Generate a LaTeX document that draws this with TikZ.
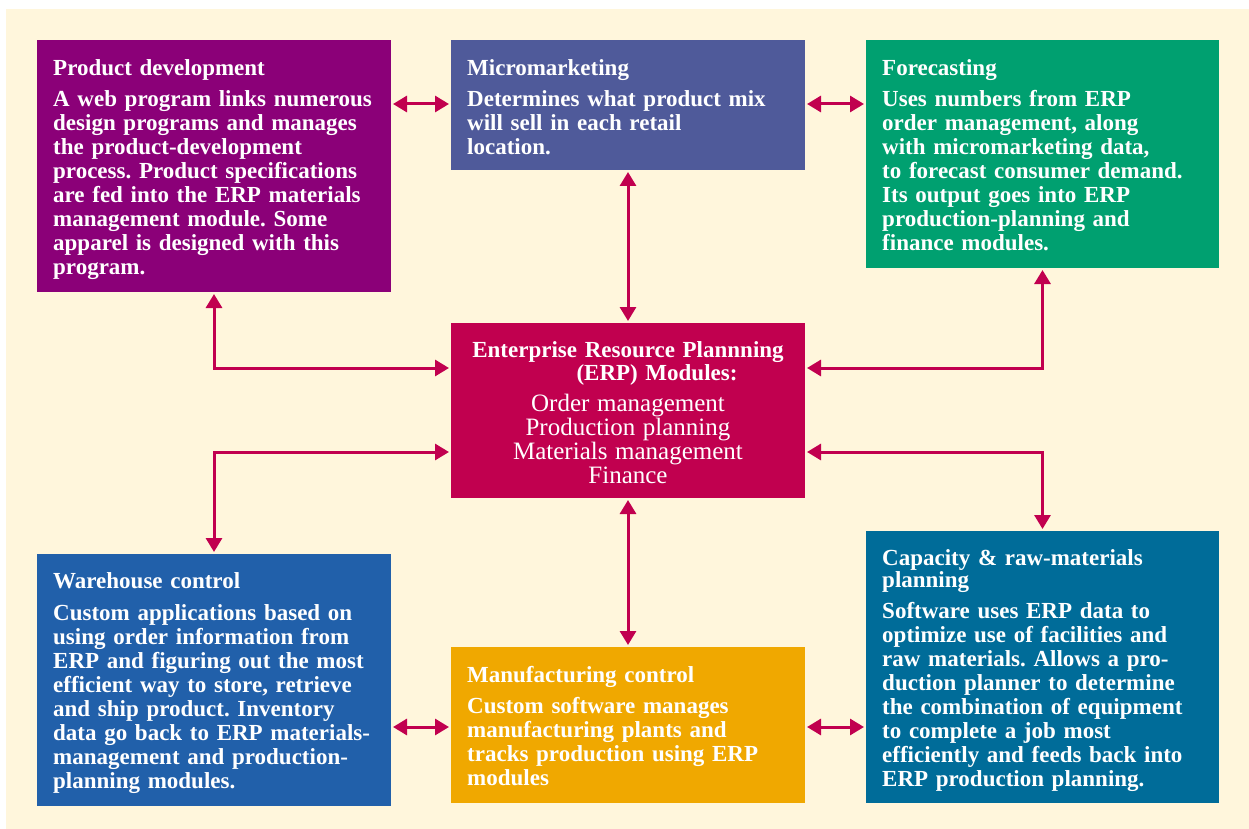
\documentclass[tikz,border=0pt]{standalone}
\usepackage{fontspec}
\setmainfont{Liberation Serif}
\usetikzlibrary{arrows.meta}
\frenchspacing
\definecolor{bgc}{HTML}{FFF6DC}
\definecolor{cPD}{HTML}{8B0078}
\definecolor{cMM}{HTML}{4F5A9A}
\definecolor{cFC}{HTML}{00A070}
\definecolor{cERP}{HTML}{C1004F}
\definecolor{cWH}{HTML}{2160AA}
\definecolor{cMF}{HTML}{F0A800}
\definecolor{cCAP}{HTML}{006C99}
\definecolor{arrowc}{HTML}{C1004F}
\begin{document}
\begin{tikzpicture}[x=1pt,y=-1pt,
  box/.style={draw=none,inner sep=0pt,outer sep=0pt,anchor=north west},
  txt/.style={anchor=base west,text width=360pt,align=left,inner sep=0pt,text=white,
    font=\fontsize{23}{24}\selectfont\bfseries\frenchspacing},
  link/.style={draw=arrowc,line width=3pt,
    {Triangle[width=16pt,length=14pt]}-{Triangle[width=16pt,length=14pt]},
    shorten <=2pt,shorten >=2pt}]
\useasboundingbox (0,0) rectangle (1249,829);
\fill[white] (0,0) rectangle (1249,829);
\fill[bgc] (6,9) rectangle (1249,829);

% boxes
\node[box,fill=cPD,minimum width=354pt,minimum height=252pt] (pd) at (37,40) {};
\node[box,fill=cMM,minimum width=354pt,minimum height=130pt] (mm) at (451,40) {};
\node[box,fill=cFC,minimum width=353pt,minimum height=228pt] (fc) at (866,40) {};
\node[box,fill=cERP,minimum width=354pt,minimum height=175pt] (erp) at (451,323) {};
\node[box,fill=cWH,minimum width=354pt,minimum height=252pt] (wh) at (37,554) {};
\node[box,fill=cMF,minimum width=354pt,minimum height=156pt] (mf) at (451,647) {};
\node[box,fill=cCAP,minimum width=353pt,minimum height=272pt] (cap) at (866,531) {};

% texts
\node[txt] (pdt) at (53,76) {Product development\\[7pt]
A web program links numerous\\
design programs and manages\\
the product-development\\
process. Product specifications\\
are fed into the ERP materials\\
management module. Some\\
apparel is designed with this\\
program.};
\node[txt] (mmt) at (467,76) {Micromarketing\\[7pt]
Determines what product mix\\
will sell in each retail\\
location.};
\node[txt] (fct) at (882,76) {Forecasting\\[7pt]
Uses numbers from ERP\\
order management, along\\
with micromarketing data,\\
to forecast consumer demand.\\
Its output goes into ERP\\
production-planning and\\
finance modules.};
\node[txt] (wht) at (53,588) {Warehouse control\\[8pt]
Custom applications based on\\
using order information from\\
ERP and figuring out the most\\
efficient way to store, retrieve\\
and ship product. Inventory\\
data go back to ERP materials-\\
management and production-\\
planning modules.};
\node[txt] (mft) at (467,682) {Manufacturing control\\[7pt]
Custom software manages\\
manufacturing plants and\\
tracks production using ERP\\
modules};
\node[txt] (capt) at (882,565) {Capacity \& raw-materials\\[-2pt]
planning\\[7pt]
Software uses ERP data to\\
optimize use of facilities and\\
raw materials. Allows a pro-\\
duction planner to determine\\
the combination of equipment\\
to complete a job most\\
efficiently and feeds back into\\
ERP production planning.};
\node[anchor=base,text width=354pt,align=center,inner sep=0pt,text=white,
  font=\fontsize{23}{24}\selectfont] (erpt) at (628,357)
 {\textbf{Enterprise Resource Plannning}\\[-1pt]
  \hspace*{58pt}\textbf{(ERP) Modules:}\\[7pt]
  {\fontsize{25}{24}\selectfont Order management\\
  Production planning\\
  Materials management\\
  Finance}};

% connectors
\draw[link] (pd.east |- 0,104) -- (mm.west |- 0,104);
\draw[link] (mm.east |- 0,104) -- (fc.west |- 0,104);
\draw[link] (mm.south) -- (erp.north);
\draw[link] (pd.south) |- (erp.west |- 0,368);
\draw[link] (fc.south) |- (erp.east |- 0,368);
\draw[link] (wh.north) |- (erp.west |- 0,452);
\draw[link] (cap.north) |- (erp.east |- 0,452);
\draw[link] (erp.south) -- (mf.north);
\draw[link] (wh.east |- 0,727) -- (mf.west |- 0,727);
\draw[link] (mf.east |- 0,727) -- (cap.west |- 0,727);
\end{tikzpicture}
\end{document}
